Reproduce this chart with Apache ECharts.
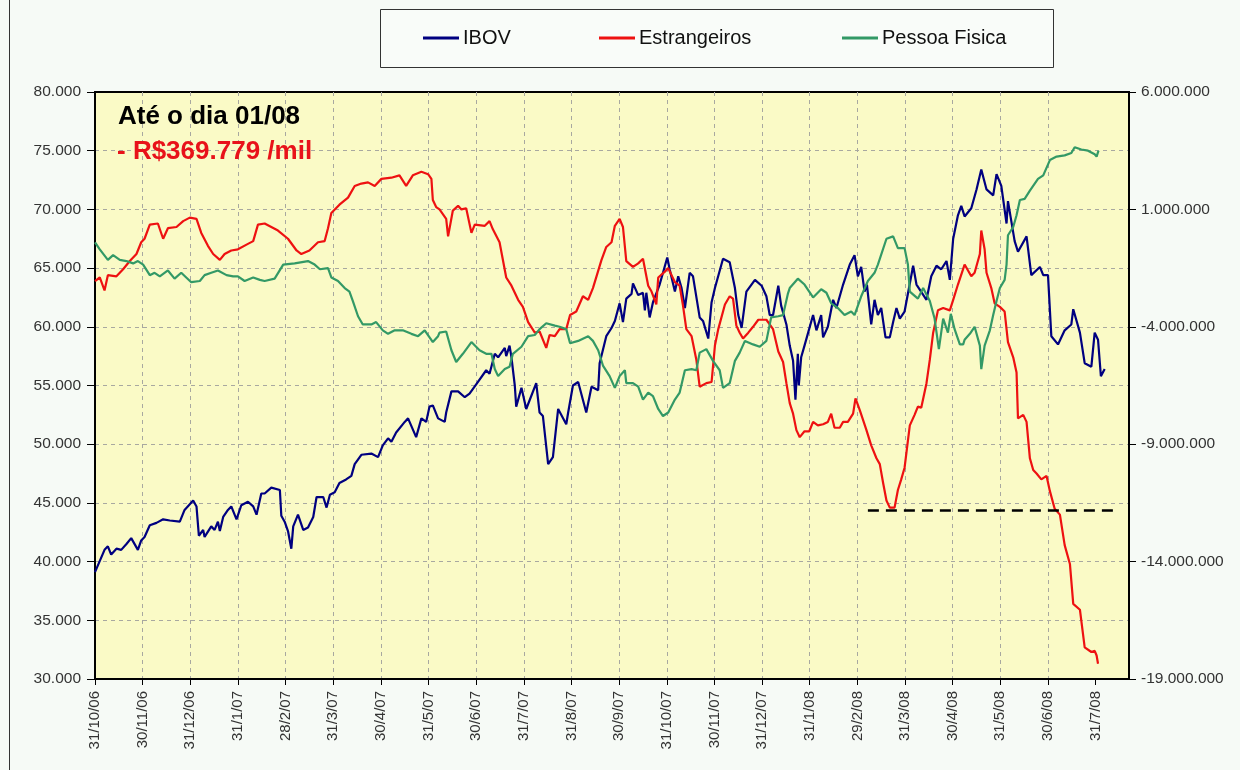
<!DOCTYPE html>
<html>
<head>
<meta charset="utf-8">
<script src="https://cdn.jsdelivr.net/npm/echarts@6/dist/echarts.min.js"></script>
<style>
html,body{margin:0;padding:0;background:#F6FAF6;}
#chart{width:1240px;height:770px;}
</style>
</head>
<body>
<div id="chart"></div>
<script>
// Month-end tick labels (x = months since 31/10/06)
const xTickLabels = ['31/10/06','30/11/06','31/12/06','31/1/07','28/2/07','31/3/07','30/4/07','31/5/07','30/6/07','31/7/07','31/8/07','30/9/07','31/10/07','30/11/07','31/12/07','31/1/08','29/2/08','31/3/08','30/4/08','31/5/08','30/6/08','31/7/08'];
const seriesNames = ['IBOV','Estrangeiros','Pessoa Fisica'];

// IBOV index points [month, value] (left axis)
const ibov = [[0.00,39100],[0.20,41000],[0.27,41300],[0.34,40600],[0.45,41100],[0.55,41000],[0.66,41500],[0.76,42000],[0.90,41000],[0.97,41800],[1.04,42100],[1.15,43100],[1.29,43300],[1.43,43600],[1.57,43500],[1.78,43400],[1.88,44400],[2.06,45200],[2.13,44700],[2.18,42200],[2.27,42700],[2.30,42100],[2.44,43000],[2.51,42700],[2.58,43400],[2.62,42600],[2.69,43800],[2.79,44400],[2.86,44700],[2.97,43600],[3.07,44800],[3.21,45100],[3.32,44700],[3.39,44000],[3.49,45800],[3.56,45800],[3.70,46300],[3.88,46100],[3.91,43900],[3.98,43400],[4.05,42600],[4.12,41100],[4.16,43000],[4.26,44000],[4.37,42700],[4.47,42900],[4.58,43800],[4.65,45500],[4.79,45500],[4.86,44600],[4.93,45700],[5.03,45900],[5.13,46700],[5.27,47000],[5.38,47300],[5.45,48300],[5.59,49100],[5.80,49200],[5.94,48900],[6.04,49900],[6.15,50500],[6.22,50200],[6.32,51000],[6.50,51900],[6.57,52200],[6.74,50600],[6.85,52200],[6.95,51900],[7.02,53200],[7.09,53300],[7.20,52200],[7.34,51900],[7.37,52700],[7.48,54500],[7.62,54500],[7.76,54000],[7.86,54300],[8.00,55100],[8.21,56300],[8.28,56000],[8.39,57700],[8.46,57400],[8.60,58200],[8.63,57500],[8.70,58400],[8.74,57400],[8.81,55000],[8.84,53200],[8.95,54800],[9.05,53000],[9.26,55200],[9.33,52700],[9.40,52400],[9.51,48300],[9.61,48900],[9.72,53000],[9.89,51700],[9.93,52700],[10.03,55000],[10.14,55300],[10.31,52700],[10.42,54900],[10.56,54600],[10.59,56900],[10.73,59200],[10.84,59900],[10.91,60500],[11.01,62000],[11.08,60400],[11.15,62400],[11.26,62800],[11.29,63700],[11.40,62700],[11.50,62900],[11.54,61400],[11.57,62900],[11.64,60800],[11.71,62100],[11.85,63600],[11.92,64600],[12.01,65900],[12.06,64900],[12.17,63000],[12.24,64300],[12.31,63300],[12.38,61600],[12.48,64600],[12.55,64300],[12.69,60800],[12.76,60500],[12.87,59000],[12.94,62100],[13.01,63300],[13.18,65800],[13.32,65500],[13.43,63300],[13.50,61000],[13.57,59900],[13.67,63000],[13.85,64000],[13.99,63500],[14.09,62600],[14.16,61000],[14.23,61000],[14.34,63500],[14.40,61800],[14.51,60200],[14.58,58400],[14.65,57100],[14.70,53800],[14.75,57700],[14.77,55000],[14.82,57400],[14.89,58400],[15.07,61000],[15.14,59700],[15.24,61000],[15.28,59100],[15.38,60000],[15.49,62300],[15.56,61600],[15.70,63600],[15.84,65300],[15.94,66100],[16.01,64300],[16.08,65100],[16.15,63000],[16.20,63600],[16.29,60200],[16.36,62300],[16.43,61000],[16.50,61600],[16.59,59100],[16.68,59100],[16.75,60400],[16.82,61600],[16.89,60700],[16.99,61300],[17.17,65200],[17.24,63600],[17.45,62300],[17.55,64300],[17.66,65200],[17.76,64900],[17.87,65600],[17.94,64000],[18.01,67500],[18.11,69500],[18.18,70300],[18.25,69400],[18.39,70100],[18.50,71700],[18.60,73400],[18.71,71700],[18.85,71200],[18.92,73000],[19.02,72000],[19.13,68800],[19.16,70700],[19.30,67300],[19.37,66400],[19.55,67700],[19.65,64400],[19.83,65100],[19.90,64400],[20.00,64400],[20.07,59200],[20.21,58500],[20.35,59700],[20.49,60200],[20.53,61500],[20.67,59500],[20.77,56900],[20.91,56600],[20.98,59500],[21.05,58900],[21.11,55800],[21.19,56400]];

// Estrangeiros accumulated flow [month, value] (right axis)
const estrangeiros = [[0.00,-2050000],[0.10,-1900000],[0.20,-2450000],[0.27,-1800000],[0.45,-1850000],[0.59,-1550000],[0.73,-1200000],[0.87,-900000],[0.97,-400000],[1.04,-250000],[1.15,350000],[1.32,400000],[1.43,-250000],[1.53,200000],[1.71,250000],[1.85,500000],[1.99,650000],[2.13,600000],[2.23,0],[2.37,-550000],[2.48,-900000],[2.62,-1150000],[2.72,-900000],[2.86,-750000],[3.00,-700000],[3.18,-500000],[3.32,-350000],[3.42,350000],[3.56,400000],[3.70,250000],[3.84,100000],[4.05,-250000],[4.23,-750000],[4.33,-900000],[4.50,-750000],[4.68,-400000],[4.82,-350000],[4.89,200000],[4.96,850000],[5.13,1200000],[5.31,1500000],[5.45,2000000],[5.59,2100000],[5.73,2150000],[5.87,2000000],[6.01,2300000],[6.22,2350000],[6.39,2450000],[6.53,2000000],[6.67,2450000],[6.85,2600000],[6.99,2500000],[7.06,2300000],[7.09,1400000],[7.16,1100000],[7.23,1000000],[7.37,600000],[7.41,-150000],[7.51,950000],[7.62,1150000],[7.69,1000000],[7.79,1050000],[7.90,0],[7.97,350000],[8.18,300000],[8.28,500000],[8.35,150000],[8.49,-400000],[8.63,-1900000],[8.74,-2250000],[8.88,-2850000],[8.98,-3150000],[9.09,-3800000],[9.23,-4250000],[9.33,-4200000],[9.47,-4900000],[9.54,-4350000],[9.65,-4400000],[9.75,-4100000],[9.89,-4100000],[9.97,-3500000],[10.10,-3350000],[10.24,-2700000],[10.35,-2850000],[10.45,-2350000],[10.63,-1150000],[10.73,-600000],[10.84,-400000],[10.91,300000],[11.01,600000],[11.08,250000],[11.15,-1200000],[11.29,-1450000],[11.40,-1300000],[11.50,-1100000],[11.61,-2250000],[11.68,-2500000],[11.78,-3050000],[11.82,-1900000],[11.96,-1650000],[12.03,-1500000],[12.17,-2100000],[12.27,-2250000],[12.34,-3100000],[12.41,-4100000],[12.52,-4400000],[12.62,-5400000],[12.69,-6550000],[12.83,-6400000],[12.94,-6350000],[13.01,-4800000],[13.08,-4100000],[13.22,-3050000],[13.32,-2700000],[13.39,-2800000],[13.46,-3950000],[13.53,-4250000],[13.60,-4500000],[13.71,-4250000],[13.81,-4000000],[13.92,-3700000],[14.09,-3700000],[14.23,-4100000],[14.34,-5050000],[14.44,-5500000],[14.51,-6400000],[14.58,-7250000],[14.65,-7700000],[14.72,-8400000],[14.79,-8700000],[14.89,-8450000],[14.99,-8450000],[15.07,-8050000],[15.17,-8200000],[15.28,-8150000],[15.38,-8050000],[15.45,-7700000],[15.52,-8300000],[15.63,-8300000],[15.70,-8050000],[15.80,-8050000],[15.91,-7700000],[15.96,-7050000],[16.05,-7550000],[16.19,-8400000],[16.29,-9050000],[16.40,-9600000],[16.47,-9850000],[16.54,-10650000],[16.61,-11400000],[16.68,-11700000],[16.78,-11700000],[16.85,-10950000],[16.92,-10500000],[16.99,-10000000],[17.03,-9350000],[17.10,-8200000],[17.20,-7750000],[17.27,-7400000],[17.34,-7450000],[17.45,-6400000],[17.52,-5400000],[17.59,-4250000],[17.69,-3300000],[17.80,-3200000],[17.94,-3300000],[18.01,-2850000],[18.11,-2200000],[18.25,-1350000],[18.39,-1850000],[18.46,-1700000],[18.57,-900000],[18.60,100000],[18.67,-700000],[18.71,-1700000],[18.81,-2350000],[18.88,-3000000],[18.99,-3150000],[19.09,-3350000],[19.16,-4650000],[19.27,-5300000],[19.34,-5950000],[19.37,-7900000],[19.48,-7750000],[19.55,-8050000],[19.62,-9600000],[19.69,-10100000],[19.76,-10250000],[19.86,-10500000],[19.97,-10350000],[20.04,-11000000],[20.14,-11750000],[20.25,-12000000],[20.35,-13300000],[20.46,-14100000],[20.53,-15800000],[20.67,-16050000],[20.77,-17650000],[20.91,-17850000],[20.98,-17800000],[21.02,-18000000],[21.05,-18350000]];

// Pessoa Fisica accumulated flow [month, value] (right axis)
const pessoaFisica = [[0.00,-400000],[0.10,-700000],[0.27,-1150000],[0.38,-950000],[0.52,-1150000],[0.66,-1200000],[0.80,-1300000],[0.90,-1200000],[1.01,-1350000],[1.15,-1800000],[1.25,-1700000],[1.36,-1850000],[1.53,-1600000],[1.67,-1950000],[1.81,-1700000],[2.02,-2100000],[2.20,-2050000],[2.30,-1800000],[2.44,-1700000],[2.58,-1600000],[2.76,-1800000],[2.90,-1850000],[3.00,-1850000],[3.14,-2050000],[3.32,-1900000],[3.46,-2000000],[3.56,-2050000],[3.77,-1950000],[3.95,-1350000],[4.19,-1300000],[4.47,-1200000],[4.61,-1350000],[4.72,-1550000],[4.89,-1500000],[4.96,-1900000],[5.10,-2050000],[5.24,-2350000],[5.34,-2500000],[5.41,-2900000],[5.52,-3550000],[5.62,-3900000],[5.80,-3900000],[5.90,-3800000],[6.04,-4150000],[6.15,-4300000],[6.29,-4150000],[6.46,-4150000],[6.64,-4300000],[6.78,-4400000],[6.92,-4150000],[7.09,-4650000],[7.20,-4400000],[7.23,-4250000],[7.37,-4200000],[7.48,-5000000],[7.58,-5500000],[7.72,-5150000],[7.90,-4650000],[8.07,-5000000],[8.21,-5150000],[8.32,-5150000],[8.39,-5800000],[8.46,-6100000],[8.60,-5800000],[8.70,-5700000],[8.77,-5150000],[8.95,-4850000],[9.09,-4400000],[9.23,-4350000],[9.33,-4100000],[9.47,-3850000],[9.65,-3950000],[9.75,-4000000],[9.89,-4100000],[9.97,-4700000],[10.14,-4600000],[10.35,-4400000],[10.45,-4600000],[10.56,-5000000],[10.66,-5650000],[10.80,-6100000],[10.91,-6600000],[11.01,-6100000],[11.12,-5850000],[11.15,-6400000],[11.29,-6400000],[11.40,-6550000],[11.50,-7100000],[11.61,-6800000],[11.71,-6950000],[11.82,-7500000],[11.92,-7800000],[12.03,-7650000],[12.17,-7100000],[12.27,-6800000],[12.38,-5850000],[12.52,-5800000],[12.62,-5850000],[12.69,-5100000],[12.83,-4950000],[12.97,-5450000],[13.11,-5850000],[13.18,-6600000],[13.32,-6400000],[13.43,-5450000],[13.53,-5100000],[13.64,-4600000],[13.81,-4750000],[13.95,-4850000],[14.09,-4600000],[14.19,-3600000],[14.34,-3550000],[14.44,-3500000],[14.54,-2600000],[14.58,-2350000],[14.75,-1950000],[14.89,-2200000],[15.07,-2750000],[15.24,-2400000],[15.35,-2550000],[15.45,-3000000],[15.59,-3200000],[15.73,-3500000],[15.87,-3350000],[15.94,-3500000],[16.08,-2700000],[16.22,-2050000],[16.36,-1700000],[16.43,-1350000],[16.61,-250000],[16.75,-150000],[16.85,-650000],[16.99,-650000],[17.06,-1350000],[17.10,-2500000],[17.27,-2800000],[17.38,-2350000],[17.52,-2900000],[17.62,-3650000],[17.71,-4950000],[17.80,-3650000],[17.90,-4250000],[17.96,-3450000],[18.04,-4100000],[18.15,-4750000],[18.22,-4750000],[18.25,-4550000],[18.36,-4300000],[18.46,-4000000],[18.57,-4800000],[18.60,-5800000],[18.67,-4800000],[18.78,-4150000],[18.85,-3500000],[18.92,-2900000],[18.99,-2350000],[19.09,-2000000],[19.13,-1350000],[19.16,-100000],[19.27,250000],[19.34,750000],[19.41,1400000],[19.51,1450000],[19.62,1800000],[19.79,2300000],[19.90,2450000],[20.04,3100000],[20.18,3250000],[20.35,3300000],[20.49,3400000],[20.56,3650000],[20.70,3550000],[20.84,3500000],[20.98,3350000],[21.02,3250000],[21.06,3500000]];

// Dashed reference level at the Estrangeiros minimum [month, value]
const refLine = [[16.22,-11800000],[21.46,-11800000]];

const annotation = ['Até o dia 01/08','- R$369.779 /mil'];

function fmt(v){ return Math.round(v).toString().replace(/\B(?=(\d{3})+(?!\d))/g,'.'); }

const FONT = 'Liberation Sans, Arial, sans-serif';
const colors = ['#000080','#EE1111','#339966'];
const monthTicks = xTickLabels.map((_, i) => i);

const chart = echarts.init(document.getElementById('chart'), null, {renderer:'canvas'});

const legendLefts = [423, 599, 842];
const legends = seriesNames.map((n,i)=>({
  data:[n], left:legendLefts[i], top:28, padding:0, icon:'rect', itemWidth:36, itemHeight:3,
  itemGap:0, textStyle:{fontFamily:FONT, fontSize:20, color:'#111', padding:[0,0,0,-1]},
  selectedMode:false
}));

chart.setOption({
  backgroundColor:'#F6FAF6',
  animation:false,
  color:colors,
  legend:legends,
  grid:{left:95, right:111, top:92, bottom:91, show:true, backgroundColor:'#FAFAC6', borderColor:'#000', borderWidth:2},
  xAxis:{
    type:'value', min:0, max:21.70, interval:1,
    axisLine:{show:true, onZero:false, lineStyle:{color:'#000', width:2}},
    axisTick:{show:true, length:6, customValues:monthTicks, lineStyle:{color:'#000', width:1}},
    axisLabel:{rotate:90, margin:12, fontFamily:FONT, fontSize:15, color:'#333', customValues:monthTicks,
      formatter:v=>{ const i=Math.round(v); return Math.abs(v-i)<1e-6 && xTickLabels[i]? xTickLabels[i] : ''; }},
    splitLine:{show:true, showMinLine:false, showMaxLine:false, lineStyle:{color:'#A8A8A0', type:[4,4], width:1}}
  },
  yAxis:[
    {type:'value', min:30000, max:80000, interval:5000, position:'left',
     axisLine:{show:true, onZero:false, lineStyle:{color:'#000', width:2}},
     axisTick:{show:true, length:8, lineStyle:{color:'#000'}},
     axisLabel:{fontFamily:FONT, fontSize:15.5, color:'#333', margin:14, formatter:fmt},
     splitLine:{show:true, showMinLine:false, showMaxLine:false, lineStyle:{color:'#A8A8A0', type:[4,4], width:1}}},
    {type:'value', min:-19000000, max:6000000, interval:5000000, position:'right',
     axisLine:{show:true, onZero:false, lineStyle:{color:'#000', width:2}},
     axisTick:{show:true, length:7, lineStyle:{color:'#000'}},
     axisLabel:{fontFamily:FONT, fontSize:15.5, color:'#333', margin:12, formatter:fmt},
     splitLine:{show:false}}
  ],
  series:[
    {name:seriesNames[0], type:'line', yAxisIndex:0, data:ibov, showSymbol:false, symbol:'none', lineStyle:{width:2.2, color:colors[0]}, z:3},
    {name:seriesNames[1], type:'line', yAxisIndex:1, data:estrangeiros, showSymbol:false, symbol:'none', lineStyle:{width:2.2, color:colors[1]}, z:4,
     markLine:{silent:true, symbol:'none', label:{show:false}, lineStyle:{color:'#000', type:[11,7], width:2.5},
       data:[[{coord:refLine[0]},{coord:refLine[1]}]]}},
    {name:seriesNames[2], type:'line', yAxisIndex:1, data:pessoaFisica, showSymbol:false, symbol:'none', lineStyle:{width:2.2, color:colors[2]}, z:5}
  ],
  graphic:[
    {type:'rect', left:380, top:9, shape:{width:673, height:58}, style:{fill:'#F9FCF9', stroke:'#333', lineWidth:1}, z:-1},
    {type:'line', shape:{x1:9.5, y1:0, x2:9.5, y2:770}, style:{stroke:'#333', lineWidth:1}},
    {type:'text', left:118, top:104, style:{text:annotation[0], font:'bold 26px '+FONT, fill:'#000'}, z:10},
    {type:'text', left:117, top:139, style:{text:annotation[1], font:'bold 26px '+FONT, fill:'#E8121A'}, z:10}
  ]
});
</script>
</body>
</html>
